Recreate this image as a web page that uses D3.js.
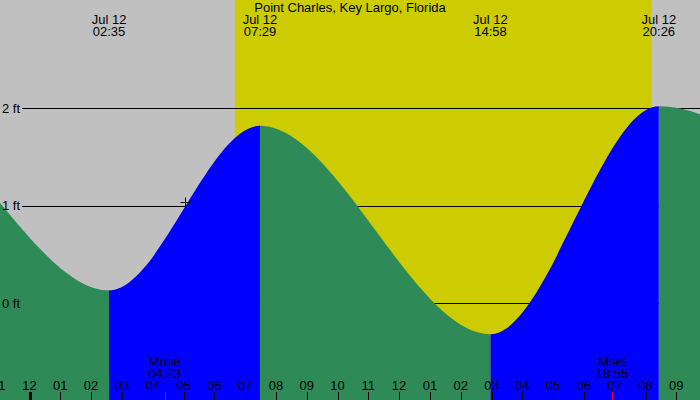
<!DOCTYPE html>
<html>
<head>
<meta charset="utf-8">
<script src="https://cdn.jsdelivr.net/npm/d3@7"></script>
<style>
  body { margin: 0; background: #fff; }
  text { font-family: "Liberation Sans", Arial, sans-serif; font-size: 13px; fill: #000; }
</style>
</head>
<body>
<script>
// Data
const title = "Point Charles, Key Largo, Florida";
// tide turning points (local time) and heights in ft
const tideTimes = ["2024-07-11T12:50", "2024-07-11T19:34", "2024-07-12T02:35", "2024-07-12T07:29",
                   "2024-07-12T14:58", "2024-07-12T20:26", "2024-07-13T06:40", "2024-07-13T12:30"];
const tideHeights = [-0.1, 1.9, 0.13, 1.82, -0.32, 2.02, 0.3, 1.8];
const labeledTides = ["2024-07-12T02:35", "2024-07-12T07:29", "2024-07-12T14:58", "2024-07-12T20:26"];
const sunTimes = ["2024-07-12T06:40", "2024-07-12T20:12"];
const moonLabels = ["Mrise", "Mset"];
const moonTimes = ["2024-07-12T04:23", "2024-07-12T18:55"];
const gridLevels = [0, 1, 2];
const markerTime = "2024-07-12T05:03", markerHeight = 1.04;

const width = 700, height = 400;
const parse = d3.timeParse("%Y-%m-%dT%H:%M");
const day = parse("2024-07-12T00:00");
const pxPerHour = 30.8, midnightX = 29.5;

const svg = d3.select("body").append("svg")
    .attr("width", width)
    .attr("height", height);

// Scales
const x = d3.scaleTime()
    .domain([new Date(+day - midnightX / pxPerHour * 3600e3),
             new Date(+day + (width - midnightX) / pxPerHour * 3600e3)])
    .range([0, width]);
const y = d3.scaleLinear()
    .domain([0, 2])
    .range([303, 108.3]);

// Night and day background
svg.append("rect")
    .attr("width", width).attr("height", height)
    .attr("fill", "#c0c0c0");
svg.append("rect")
    .attr("x", x(parse(sunTimes[0])))
    .attr("width", x(parse(sunTimes[1])) - x(parse(sunTimes[0])))
    .attr("height", height)
    .attr("fill", "#cccc00");

// Level lines
svg.selectAll(".grid")
    .data(gridLevels)
    .enter().append("line")
      .attr("x1", 22).attr("x2", width)
      .attr("y1", d => Math.round(y(d)) + 0.5)
      .attr("y2", d => Math.round(y(d)) + 0.5)
      .attr("stroke", "#000");

// Tide area, coloured rising (blue) / falling (green)
const tide = tideTimes.map((t, i) => ({t: parse(t), h: tideHeights[i]}));
const area = d3.area()
    .x(d => x(d.t))
    .y0(height)
    .y1(d => y(d.h))
    .curve(d3.curveMonotoneX);
svg.append("clipPath").attr("id", "tideClip")
  .append("path").attr("d", area(tide));

svg.append("g").attr("clip-path", "url(#tideClip)")
  .selectAll("rect")
  .data(tide.slice(0, -1))
  .enter().append("rect")
    .attr("x", (d, i) => x(d.t))
    .attr("width", (d, i) => x(tide[i + 1].t) - x(d.t))
    .attr("y", 0)
    .attr("height", height)
    .attr("fill", (d, i) => tide[i + 1].h > d.h ? "#0000ff" : "#2e8b57");

// small cross marker
const mx = Math.round(x(parse(markerTime))) + 0.5, my = Math.round(y(markerHeight)) + 0.5;
svg.append("path")
    .attr("d", `M${mx - 5},${my}H${mx + 5}M${mx},${my - 5}V${my + 5}`)
    .attr("stroke", "#000");

// Level labels
svg.selectAll(".lvl")
    .data(gridLevels)
    .enter().append("text")
      .attr("x", 2)
      .attr("y", d => y(d) + 4.5)
      .text(d => d + " ft");

// Title and tide times
svg.append("text")
    .attr("x", width / 2).attr("y", 12)
    .attr("text-anchor", "middle")
    .text(title);

const tl = svg.selectAll(".tl")
    .data(labeledTides.map(parse))
    .enter().append("g");
tl.append("text")
    .attr("x", d => x(d)).attr("y", 24)
    .attr("text-anchor", "middle")
    .text(d3.timeFormat("%b %d"));
tl.append("text")
    .attr("x", d => x(d)).attr("y", 36)
    .attr("text-anchor", "middle")
    .text(d3.timeFormat("%H:%M"));

// Hour axis along the bottom
const hours = d3.timeHour.range(d3.timeHour.offset(x.domain()[0], -1), x.domain()[1]);
svg.selectAll(".hl")
    .data(hours)
    .enter().append("text")
      .attr("x", d => x(d))
      .attr("y", 390)
      .attr("text-anchor", "middle")
      .text(d3.timeFormat("%I"));
svg.selectAll(".ht")
    .data(hours)
    .enter().append("line")
      .attr("x1", d => Math.round(x(d)) + 0.5)
      .attr("x2", d => Math.round(x(d)) + 0.5)
      .attr("y1", 392).attr("y2", height)
      .attr("stroke", "#000")
      .attr("stroke-width", d => d.getHours() === 0 ? 3 : 1);

// Moon rise / set
const moon = moonTimes.map((t, i) => ({t: parse(t), label: moonLabels[i]}));
svg.selectAll(".mt")
    .data(moon)
    .enter().append("line")
      .attr("x1", d => Math.round(x(d.t)) + 0.5)
      .attr("x2", d => Math.round(x(d.t)) + 0.5)
      .attr("y1", 392).attr("y2", height)
      .attr("stroke", "#ff0000");
svg.selectAll(".ml")
    .data(moon)
    .enter().append("text")
      .attr("x", d => x(d.t)).attr("y", 366)
      .attr("text-anchor", "middle")
      .text(d => d.label);
svg.selectAll(".mtime")
    .data(moon)
    .enter().append("text")
      .attr("x", d => x(d.t)).attr("y", 378)
      .attr("text-anchor", "middle")
      .text(d => d3.timeFormat("%H:%M")(d.t));
</script>
</body>
</html>
